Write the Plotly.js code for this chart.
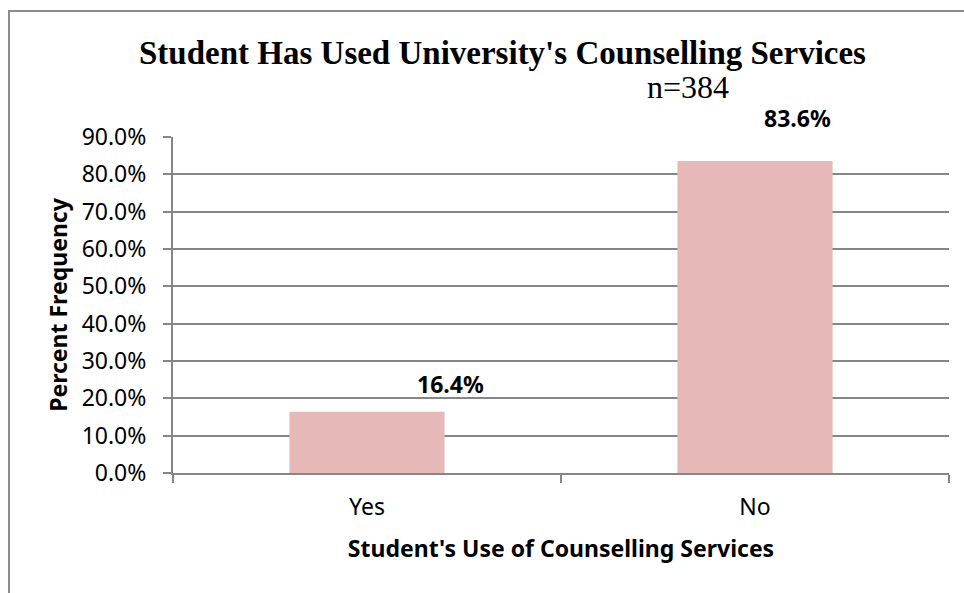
<!DOCTYPE html>
<html>
<head>
<meta charset="utf-8">
<script src="https://cdn.plot.ly/plotly-3.0.1.min.js"></script>
<style>
  html, body { margin: 0; padding: 0; overflow: hidden; background: #fff; }
  #chart { width: 964px; height: 593px; }
  #frame { position: absolute; left: 8px; top: 10px; width: 1200px; height: 800px;
           border-left: 2px solid #8c8c8c; border-top: 2px solid #8c8c8c; pointer-events: none; }
</style>
</head>
<body>
<div id="chart"></div>
<div id="frame"></div>
<script>
const categories = ["Yes", "No"];
const percentValues = [16.4, 83.6];
const valueLabels = ["16.4%", "83.6%"];
const yTickValues = [0, 10, 20, 30, 40, 50, 60, 70, 80, 90];
const yTickLabels = ["0.0%", "10.0%", "20.0%", "30.0%", "40.0%", "50.0%", "60.0%", "70.0%", "80.0%", "90.0%"];

const labelShiftX = [83, 42];
const labelShiftY = [28, 43];
const sansFont = "Noto Sans, Open Sans, sans-serif";
const serifFont = "Liberation Serif, Times New Roman, serif";

const trace = {
  type: "bar",
  x: categories,
  y: percentValues,
  marker: { color: "#E6B9B8" },
  hoverinfo: "none"
};

const annotations = categories.map((c, i) => ({
  x: c, y: percentValues[i], xref: "x", yref: "y",
  text: "<b>" + valueLabels[i] + "</b>",
  showarrow: false, xshift: labelShiftX[i], yshift: labelShiftY[i],
  xanchor: "center", yanchor: "middle",
  font: { family: sansFont, size: 23, color: "#000" }
}));

annotations.push({
  xref: "paper", yref: "paper", x: 0.425, y: 1.25,
  xanchor: "center", yanchor: "middle",
  text: "<b>Student Has Used University's Counselling Services</b>",
  showarrow: false,
  font: { family: serifFont, size: 33, color: "#000" }
});
annotations.push({
  xref: "paper", yref: "paper", x: 0.664, y: 1.149,
  xanchor: "center", yanchor: "middle",
  text: "n=384",
  showarrow: false,
  font: { family: serifFont, size: 32, color: "#000" }
});

const layout = {
  width: 964, height: 593,
  margin: { l: 173, r: 15, t: 137, b: 120 },
  paper_bgcolor: "rgba(0,0,0,0)",
  plot_bgcolor: "#fff",
  showlegend: false,
  bargap: 0.6,
  xaxis: {
    type: "category",
    tickson: "boundaries",
    ticks: "outside", ticklen: 8, tickcolor: "#868686", tickwidth: 2,
    showline: true, linecolor: "#868686", linewidth: 2,
    showgrid: false,
    ticklabelstandoff: 12,
    tickfont: { family: sansFont, size: 23, color: "#000" },
    title: { text: "<b>Student's Use of Counselling Services</b>", standoff: 20,
             font: { family: sansFont, size: 23, color: "#000" } },
    fixedrange: true
  },
  yaxis: {
    range: [0, 90],
    tickvals: yTickValues, ticktext: yTickLabels,
    ticks: "outside", ticklen: 8, tickcolor: "#868686", tickwidth: 2,
    showline: true, linecolor: "#868686", linewidth: 2,
    showgrid: true, gridcolor: "#868686", gridwidth: 2,
    zeroline: false,
    ticklabelstandoff: 12,
    tickfont: { family: sansFont, size: 23, color: "#000" },
    title: { text: "<b>Percent Frequency</b>", standoff: 8,
             font: { family: sansFont, size: 23, color: "#000" } },
    fixedrange: true
  },
  annotations: annotations
};

Plotly.newPlot("chart", [trace], layout, { displayModeBar: false, staticPlot: true });
</script>
</body>
</html>
